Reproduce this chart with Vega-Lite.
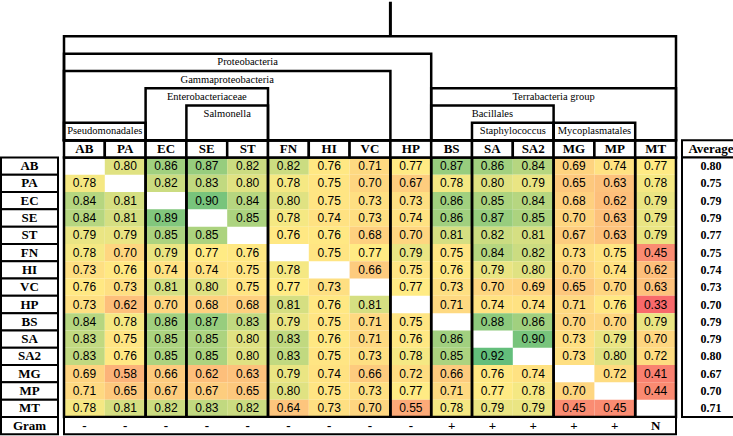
{
"$schema": "https://vega.github.io/schema/vega-lite/v6.json",
"padding": 0,
"spacing": 3,
"background": "white",
"config": {"view": {"stroke": null}, "axis": {"disable": true}, "legend": {"disable": true}},
"datasets": {
"cells": [
{"r":"AB","c":"PA","v":0.80},{"r":"AB","c":"EC","v":0.86},{"r":"AB","c":"SE","v":0.87},{"r":"AB","c":"ST","v":0.82},{"r":"AB","c":"FN","v":0.82},{"r":"AB","c":"HI","v":0.76},{"r":"AB","c":"VC","v":0.71},{"r":"AB","c":"HP","v":0.77},{"r":"AB","c":"BS","v":0.87},{"r":"AB","c":"SA","v":0.86},{"r":"AB","c":"SA2","v":0.84},{"r":"AB","c":"MG","v":0.69},{"r":"AB","c":"MP","v":0.74},{"r":"AB","c":"MT","v":0.77},
{"r":"PA","c":"AB","v":0.78},{"r":"PA","c":"EC","v":0.82},{"r":"PA","c":"SE","v":0.83},{"r":"PA","c":"ST","v":0.80},{"r":"PA","c":"FN","v":0.78},{"r":"PA","c":"HI","v":0.75},{"r":"PA","c":"VC","v":0.70},{"r":"PA","c":"HP","v":0.67},{"r":"PA","c":"BS","v":0.78},{"r":"PA","c":"SA","v":0.80},{"r":"PA","c":"SA2","v":0.79},{"r":"PA","c":"MG","v":0.65},{"r":"PA","c":"MP","v":0.63},{"r":"PA","c":"MT","v":0.78},
{"r":"EC","c":"AB","v":0.84},{"r":"EC","c":"PA","v":0.81},{"r":"EC","c":"SE","v":0.90},{"r":"EC","c":"ST","v":0.84},{"r":"EC","c":"FN","v":0.80},{"r":"EC","c":"HI","v":0.75},{"r":"EC","c":"VC","v":0.73},{"r":"EC","c":"HP","v":0.73},{"r":"EC","c":"BS","v":0.86},{"r":"EC","c":"SA","v":0.85},{"r":"EC","c":"SA2","v":0.84},{"r":"EC","c":"MG","v":0.68},{"r":"EC","c":"MP","v":0.62},{"r":"EC","c":"MT","v":0.79},
{"r":"SE","c":"AB","v":0.84},{"r":"SE","c":"PA","v":0.81},{"r":"SE","c":"EC","v":0.89},{"r":"SE","c":"ST","v":0.85},{"r":"SE","c":"FN","v":0.78},{"r":"SE","c":"HI","v":0.74},{"r":"SE","c":"VC","v":0.73},{"r":"SE","c":"HP","v":0.74},{"r":"SE","c":"BS","v":0.86},{"r":"SE","c":"SA","v":0.87},{"r":"SE","c":"SA2","v":0.85},{"r":"SE","c":"MG","v":0.70},{"r":"SE","c":"MP","v":0.63},{"r":"SE","c":"MT","v":0.79},
{"r":"ST","c":"AB","v":0.79},{"r":"ST","c":"PA","v":0.79},{"r":"ST","c":"EC","v":0.85},{"r":"ST","c":"SE","v":0.85},{"r":"ST","c":"FN","v":0.76},{"r":"ST","c":"HI","v":0.76},{"r":"ST","c":"VC","v":0.68},{"r":"ST","c":"HP","v":0.70},{"r":"ST","c":"BS","v":0.81},{"r":"ST","c":"SA","v":0.82},{"r":"ST","c":"SA2","v":0.81},{"r":"ST","c":"MG","v":0.67},{"r":"ST","c":"MP","v":0.63},{"r":"ST","c":"MT","v":0.79},
{"r":"FN","c":"AB","v":0.78},{"r":"FN","c":"PA","v":0.70},{"r":"FN","c":"EC","v":0.79},{"r":"FN","c":"SE","v":0.77},{"r":"FN","c":"ST","v":0.76},{"r":"FN","c":"HI","v":0.75},{"r":"FN","c":"VC","v":0.77},{"r":"FN","c":"HP","v":0.79},{"r":"FN","c":"BS","v":0.75},{"r":"FN","c":"SA","v":0.84},{"r":"FN","c":"SA2","v":0.82},{"r":"FN","c":"MG","v":0.73},{"r":"FN","c":"MP","v":0.75},{"r":"FN","c":"MT","v":0.45},
{"r":"HI","c":"AB","v":0.73},{"r":"HI","c":"PA","v":0.76},{"r":"HI","c":"EC","v":0.74},{"r":"HI","c":"SE","v":0.74},{"r":"HI","c":"ST","v":0.75},{"r":"HI","c":"FN","v":0.78},{"r":"HI","c":"VC","v":0.66},{"r":"HI","c":"HP","v":0.75},{"r":"HI","c":"BS","v":0.76},{"r":"HI","c":"SA","v":0.79},{"r":"HI","c":"SA2","v":0.80},{"r":"HI","c":"MG","v":0.70},{"r":"HI","c":"MP","v":0.74},{"r":"HI","c":"MT","v":0.62},
{"r":"VC","c":"AB","v":0.76},{"r":"VC","c":"PA","v":0.73},{"r":"VC","c":"EC","v":0.81},{"r":"VC","c":"SE","v":0.80},{"r":"VC","c":"ST","v":0.75},{"r":"VC","c":"FN","v":0.77},{"r":"VC","c":"HI","v":0.73},{"r":"VC","c":"HP","v":0.77},{"r":"VC","c":"BS","v":0.73},{"r":"VC","c":"SA","v":0.70},{"r":"VC","c":"SA2","v":0.69},{"r":"VC","c":"MG","v":0.65},{"r":"VC","c":"MP","v":0.70},{"r":"VC","c":"MT","v":0.63},
{"r":"HP","c":"AB","v":0.73},{"r":"HP","c":"PA","v":0.62},{"r":"HP","c":"EC","v":0.70},{"r":"HP","c":"SE","v":0.68},{"r":"HP","c":"ST","v":0.68},{"r":"HP","c":"FN","v":0.81},{"r":"HP","c":"HI","v":0.76},{"r":"HP","c":"VC","v":0.81},{"r":"HP","c":"BS","v":0.71},{"r":"HP","c":"SA","v":0.74},{"r":"HP","c":"SA2","v":0.74},{"r":"HP","c":"MG","v":0.71},{"r":"HP","c":"MP","v":0.76},{"r":"HP","c":"MT","v":0.33},
{"r":"BS","c":"AB","v":0.84},{"r":"BS","c":"PA","v":0.78},{"r":"BS","c":"EC","v":0.86},{"r":"BS","c":"SE","v":0.87},{"r":"BS","c":"ST","v":0.83},{"r":"BS","c":"FN","v":0.79},{"r":"BS","c":"HI","v":0.75},{"r":"BS","c":"VC","v":0.71},{"r":"BS","c":"HP","v":0.75},{"r":"BS","c":"SA","v":0.88},{"r":"BS","c":"SA2","v":0.86},{"r":"BS","c":"MG","v":0.70},{"r":"BS","c":"MP","v":0.70},{"r":"BS","c":"MT","v":0.79},
{"r":"SA","c":"AB","v":0.83},{"r":"SA","c":"PA","v":0.75},{"r":"SA","c":"EC","v":0.85},{"r":"SA","c":"SE","v":0.85},{"r":"SA","c":"ST","v":0.80},{"r":"SA","c":"FN","v":0.83},{"r":"SA","c":"HI","v":0.76},{"r":"SA","c":"VC","v":0.71},{"r":"SA","c":"HP","v":0.76},{"r":"SA","c":"BS","v":0.86},{"r":"SA","c":"SA2","v":0.90},{"r":"SA","c":"MG","v":0.73},{"r":"SA","c":"MP","v":0.79},{"r":"SA","c":"MT","v":0.70},
{"r":"SA2","c":"AB","v":0.83},{"r":"SA2","c":"PA","v":0.76},{"r":"SA2","c":"EC","v":0.85},{"r":"SA2","c":"SE","v":0.85},{"r":"SA2","c":"ST","v":0.80},{"r":"SA2","c":"FN","v":0.83},{"r":"SA2","c":"HI","v":0.75},{"r":"SA2","c":"VC","v":0.73},{"r":"SA2","c":"HP","v":0.78},{"r":"SA2","c":"BS","v":0.85},{"r":"SA2","c":"SA","v":0.92},{"r":"SA2","c":"MG","v":0.73},{"r":"SA2","c":"MP","v":0.80},{"r":"SA2","c":"MT","v":0.72},
{"r":"MG","c":"AB","v":0.69},{"r":"MG","c":"PA","v":0.58},{"r":"MG","c":"EC","v":0.66},{"r":"MG","c":"SE","v":0.62},{"r":"MG","c":"ST","v":0.63},{"r":"MG","c":"FN","v":0.79},{"r":"MG","c":"HI","v":0.74},{"r":"MG","c":"VC","v":0.66},{"r":"MG","c":"HP","v":0.72},{"r":"MG","c":"BS","v":0.66},{"r":"MG","c":"SA","v":0.76},{"r":"MG","c":"SA2","v":0.74},{"r":"MG","c":"MP","v":0.72},{"r":"MG","c":"MT","v":0.41},
{"r":"MP","c":"AB","v":0.71},{"r":"MP","c":"PA","v":0.65},{"r":"MP","c":"EC","v":0.67},{"r":"MP","c":"SE","v":0.67},{"r":"MP","c":"ST","v":0.65},{"r":"MP","c":"FN","v":0.80},{"r":"MP","c":"HI","v":0.75},{"r":"MP","c":"VC","v":0.73},{"r":"MP","c":"HP","v":0.77},{"r":"MP","c":"BS","v":0.71},{"r":"MP","c":"SA","v":0.77},{"r":"MP","c":"SA2","v":0.78},{"r":"MP","c":"MG","v":0.70},{"r":"MP","c":"MT","v":0.44},
{"r":"MT","c":"AB","v":0.78},{"r":"MT","c":"PA","v":0.81},{"r":"MT","c":"EC","v":0.82},{"r":"MT","c":"SE","v":0.83},{"r":"MT","c":"ST","v":0.82},{"r":"MT","c":"FN","v":0.64},{"r":"MT","c":"HI","v":0.73},{"r":"MT","c":"VC","v":0.70},{"r":"MT","c":"HP","v":0.55},{"r":"MT","c":"BS","v":0.78},{"r":"MT","c":"SA","v":0.79},{"r":"MT","c":"SA2","v":0.79},{"r":"MT","c":"MG","v":0.45},{"r":"MT","c":"MP","v":0.45}
],
"cols": [{"c":"AB","g":"-"},{"c":"PA","g":"-"},{"c":"EC","g":"-"},{"c":"SE","g":"-"},{"c":"ST","g":"-"},{"c":"FN","g":"-"},{"c":"HI","g":"-"},{"c":"VC","g":"-"},{"c":"HP","g":"-"},{"c":"BS","g":"+"},{"c":"SA","g":"+"},{"c":"SA2","g":"+"},{"c":"MG","g":"+"},{"c":"MP","g":"+"},{"c":"MT","g":"N"}],
"rows": [{"r":"AB","avg":0.80},{"r":"PA","avg":0.75},{"r":"EC","avg":0.79},{"r":"SE","avg":0.79},{"r":"ST","avg":0.77},{"r":"FN","avg":0.75},{"r":"HI","avg":0.74},{"r":"VC","avg":0.73},{"r":"HP","avg":0.70},{"r":"BS","avg":0.79},{"r":"SA","avg":0.79},{"r":"SA2","avg":0.80},{"r":"MG","avg":0.67},{"r":"MP","avg":0.70},{"r":"MT","avg":0.71},{"r":"Gram","avg":null}],
"groups": [{"a":"AB","b":"PA"},{"a":"EC","b":"EC"},{"a":"SE","b":"ST"},{"a":"FN","b":"VC"},{"a":"HP","b":"HP"},{"a":"BS","b":"BS"},{"a":"SA","b":"SA2"},{"a":"MG","b":"MP"},{"a":"MT","b":"MT"}],
"tree": [
{"n":"","a":"AB","b":"MT","l":"L1","at":"HP","edge":true},
{"n":"Proteobacteria","a":"AB","b":"HP","l":"L2","at":"ST","edge":false},
{"n":"Gammaproteobacteria","a":"AB","b":"VC","l":"L3","at":"ST","edge":true},
{"n":"Enterobacteriaceae","a":"EC","b":"ST","l":"L4","at":"SE","edge":false},
{"n":"Salmonella","a":"SE","b":"ST","l":"L5","at":"ST","edge":true},
{"n":"Pseudomonadales","a":"AB","b":"PA","l":"L6","at":"PA","edge":true},
{"n":"Terrabacteria group","a":"BS","b":"MT","l":"L4","at":"MG","edge":true},
{"n":"Bacillales","a":"BS","b":"SA2","l":"L5","at":"SA","edge":false},
{"n":"Staphylococcus","a":"SA","b":"SA2","l":"L6","at":"SA2","edge":true},
{"n":"Mycoplasmatales","a":"MG","b":"MP","l":"L6","at":"MP","edge":true}
]
},
"hconcat": [
{
"width": 57, "height": 436,
"data": {"name": "rows"},
"layer": [
{"mark": {"type": "rect", "fill": "white", "stroke": "black", "strokeWidth": 2},
 "encoding": {"y": {"field": "r", "type": "nominal", "scale": {"domain": ["s0","s1","L1","L2","L3","L4","L5","L6","hdr","AB","PA","EC","SE","ST","FN","HI","VC","HP","BS","SA","SA2","MG","MP","MT","Gram"], "paddingInner": 0, "paddingOuter": 0.1}}}},
{"mark": {"type": "text", "font": "Liberation Serif", "fontWeight": "bold", "fontSize": 13, "color": "black"},
 "encoding": {"y": {"field": "r", "type": "nominal"}, "text": {"field": "r"}}}
]
},
{
"width": 612, "height": 436,
"layer": [
{"data": {"name": "cells"},
 "mark": {"type": "rect"},
 "encoding": {
  "x": {"field": "c", "type": "nominal", "scale": {"domain": ["AB","PA","EC","SE","ST","FN","HI","VC","HP","BS","SA","SA2","MG","MP","MT"], "paddingInner": 0, "paddingOuter": 0}},
  "y": {"field": "r", "type": "nominal", "scale": {"domain": ["s0","s1","L1","L2","L3","L4","L5","L6","hdr","AB","PA","EC","SE","ST","FN","HI","VC","HP","BS","SA","SA2","MG","MP","MT","Gram"], "paddingInner": 0, "paddingOuter": 0.1}},
  "color": {"field": "v", "type": "quantitative", "scale": {"domain": [0.33, 0.77, 0.92], "range": ["#F8696B", "#FFEB84", "#63BE7B"], "interpolate": "rgb"}}
 }},
{"data": {"name": "cells"},
 "mark": {"type": "text", "font": "Liberation Sans", "fontSize": 12, "color": "black"},
 "encoding": {"x": {"field": "c", "type": "nominal"}, "y": {"field": "r", "type": "nominal"}, "text": {"field": "v", "type": "quantitative", "format": ".2f"}}},
{"data": {"name": "groups"},
 "mark": {"type": "rect", "filled": false, "stroke": "black", "strokeWidth": 2.5},
 "encoding": {"x": {"field": "a", "type": "nominal", "bandPosition": 0}, "x2": {"field": "b", "bandPosition": 1},
  "y": {"datum": "AB", "type": "nominal", "bandPosition": 0}, "y2": {"datum": "MT", "bandPosition": 1}}},
{"data": {"name": "cols"},
 "mark": {"type": "rect", "fill": "white", "stroke": "black", "strokeWidth": 2.5},
 "encoding": {"x": {"field": "c", "type": "nominal"}, "y": {"datum": "hdr", "type": "nominal"}}},
{"data": {"name": "cols"},
 "mark": {"type": "text", "font": "Liberation Serif", "fontWeight": "bold", "fontSize": 13, "color": "black"},
 "encoding": {"x": {"field": "c", "type": "nominal"}, "y": {"datum": "hdr", "type": "nominal"}, "text": {"field": "c"}}},
{"data": {"values": [{}]},
 "mark": {"type": "rect", "fill": "white", "stroke": "black", "strokeWidth": 2},
 "encoding": {"x": {"datum": "AB", "type": "nominal", "bandPosition": 0}, "x2": {"datum": "MT", "bandPosition": 1}, "y": {"datum": "Gram", "type": "nominal"}}},
{"data": {"name": "cols"},
 "mark": {"type": "text", "font": "Liberation Serif", "fontWeight": "bold", "fontSize": 13, "color": "black"},
 "encoding": {"x": {"field": "c", "type": "nominal"}, "y": {"datum": "Gram", "type": "nominal"}, "text": {"field": "g"}}},
{"data": {"name": "tree"},
 "mark": {"type": "rect", "filled": false, "stroke": "black", "strokeWidth": 2.5},
 "encoding": {"x": {"field": "a", "type": "nominal", "bandPosition": 0}, "x2": {"field": "b", "bandPosition": 1},
  "y": {"field": "l", "type": "nominal", "bandPosition": 0}, "y2": {"datum": "hdr", "bandPosition": 0}}},
{"data": {"name": "tree"},
 "transform": [{"filter": "datum.edge"}],
 "mark": {"type": "text", "font": "Liberation Serif", "fontSize": 10.5, "color": "black"},
 "encoding": {"x": {"field": "at", "type": "nominal", "bandPosition": 0}, "y": {"field": "l", "type": "nominal"}, "text": {"field": "n"}}},
{"data": {"name": "tree"},
 "transform": [{"filter": "!datum.edge"}],
 "mark": {"type": "text", "font": "Liberation Serif", "fontSize": 10.5, "color": "black"},
 "encoding": {"x": {"field": "at", "type": "nominal", "bandPosition": 0.5}, "y": {"field": "l", "type": "nominal"}, "text": {"field": "n"}}},
{"data": {"values": [{}]},
 "mark": {"type": "rule", "stroke": "black", "strokeWidth": 3},
 "encoding": {"x": {"datum": "HP", "type": "nominal", "bandPosition": 0}, "y": {"datum": "s0", "type": "nominal", "bandPosition": 0}, "y2": {"datum": "L1", "bandPosition": 0}}}
]
},
{
"width": 58, "height": 436,
"layer": [
{"data": {"values": [{}]},
 "mark": {"type": "rect", "fill": "white", "stroke": "black", "strokeWidth": 2},
 "encoding": {"y": {"datum": "hdr", "type": "nominal", "scale": {"domain": ["s0","s1","L1","L2","L3","L4","L5","L6","hdr","AB","PA","EC","SE","ST","FN","HI","VC","HP","BS","SA","SA2","MG","MP","MT","Gram"], "paddingInner": 0, "paddingOuter": 0.1}}}},
{"data": {"values": [{"t": "Average"}]},
 "mark": {"type": "text", "font": "Liberation Serif", "fontWeight": "bold", "fontSize": 13, "color": "black"},
 "encoding": {"y": {"datum": "hdr", "type": "nominal"}, "text": {"field": "t"}}},
{"data": {"values": [{}]},
 "mark": {"type": "rect", "fill": "white", "stroke": "black", "strokeWidth": 2},
 "encoding": {"y": {"datum": "AB", "type": "nominal", "bandPosition": 0}, "y2": {"datum": "MT", "bandPosition": 1}}},
{"data": {"name": "rows"},
 "transform": [{"filter": "isValid(datum.avg)"}],
 "mark": {"type": "text", "font": "Liberation Serif", "fontWeight": "bold", "fontSize": 12, "color": "black"},
 "encoding": {"y": {"field": "r", "type": "nominal"}, "text": {"field": "avg", "type": "quantitative", "format": ".2f"}}}
]
}
]
}
